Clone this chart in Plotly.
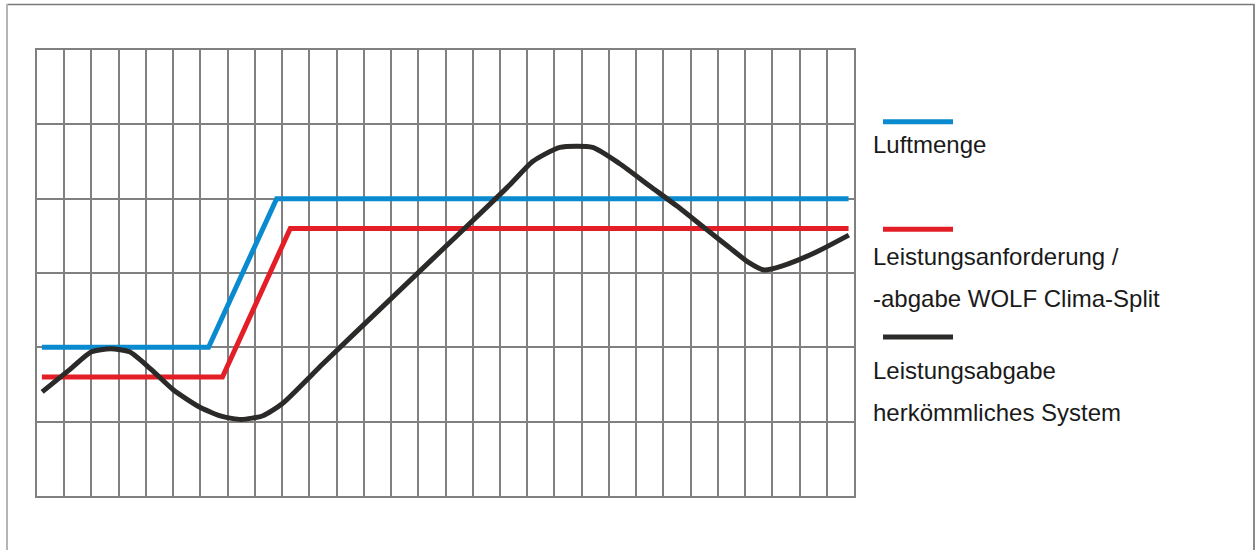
import plotly.graph_objects as go

# ---- data (grid units: x 0..30 columns, y 0..6 rows) ----
air_x = [0.18, 6.30, 8.80, 29.80]
air_y = [2.00, 2.00, 4.00, 4.00]

wolf_x = [0.18, 6.81, 9.30, 29.80]
wolf_y = [1.60, 1.60, 3.60, 3.60]

conv_x = [0.19, 1.20, 2.00, 2.70, 3.40, 4.20, 5.00, 6.00, 6.80, 7.50, 8.30, 9.00, 10.50, 12.50, 14.50,
          16.50, 17.40, 18.20, 19.20, 20.40, 21.40, 22.50, 23.50, 24.50, 25.40, 26.10, 26.70, 27.40, 28.60, 29.81]
conv_y = [1.40, 1.70, 1.94, 1.98, 1.94, 1.70, 1.43, 1.19, 1.07, 1.03, 1.08, 1.24, 1.78, 2.48, 3.18,
          3.88, 4.20, 4.50, 4.69, 4.69, 4.47, 4.17, 3.90, 3.61, 3.35, 3.15, 3.04, 3.10, 3.28, 3.51]

legend_names = ["Luftmenge",
                "Leistungsanforderung /\n-abgabe WOLF Clima-Split",
                "Leistungsabgabe\nherkömmliches System"]
colors = ["#0a8bd0", "#e31e26", "#2b2a29"]

fig = go.Figure()
for xs, ys, c in [(air_x, air_y, colors[0]), (wolf_x, wolf_y, colors[1]), (conv_x, conv_y, colors[2])]:
    fig.add_trace(go.Scatter(x=xs, y=ys, mode="lines",
                             line=dict(color=c, width=5, shape="spline" if c == colors[2] else "linear",
                                       smoothing=0.6),
                             showlegend=False, hoverinfo="skip"))

W, H = 1256, 550
ml, mr, mt, mb = 37, 402, 50, 54
pw, ph = W - ml - mr, H - mt - mb

def px(x):
    return (x - ml) / pw

def py(y):
    return (H - mb - y) / ph

shapes = []
# outer frame
shapes.append(dict(type="line", xref="paper", yref="paper", x0=px(7), x1=px(1254), y0=py(4.5), y1=py(4.5),
                   line=dict(color="#7a7a7a", width=1.5)))
shapes.append(dict(type="line", xref="paper", yref="paper", x0=px(7), x1=px(7), y0=py(4), y1=py(560),
                   line=dict(color="#b5b5b5", width=2)))
shapes.append(dict(type="line", xref="paper", yref="paper", x0=px(1254), x1=px(1254), y0=py(4), y1=py(560),
                   line=dict(color="#8a8a8a", width=2)))

# legend samples
leg_line_y = [121.7, 229.3, 337.0]
for c, yy in zip(colors, leg_line_y):
    shapes.append(dict(type="line", xref="paper", yref="paper", x0=px(883), x1=px(953), y0=py(yy), y1=py(yy),
                       line=dict(color=c, width=5)))

annotations = []
text_lines = [(legend_names[0], 144)]
l2 = legend_names[1].split("\n")
l3 = legend_names[2].split("\n")
text_lines += [(l2[0], 256), (l2[1], 298), (l3[0], 370), (l3[1], 412)]
for t, yy in text_lines:
    annotations.append(dict(text=t, xref="paper", yref="paper", x=px(871), y=py(yy), xanchor="left",
                            yanchor="middle", showarrow=False,
                            font=dict(family="Liberation Sans, Arial, sans-serif", size=24, color="#1a1a1a")))

axis_common = dict(showgrid=True, gridcolor="#808080", gridwidth=2, dtick=1, tick0=0,
                   showticklabels=False, ticks="", zeroline=False,
                   showline=True, linecolor="#808080", linewidth=2, mirror=True, fixedrange=True)

fig.update_layout(
    width=W, height=H,
    margin=dict(l=ml, r=mr, t=mt, b=mb),
    paper_bgcolor="white", plot_bgcolor="white",
    xaxis=dict(range=[0, 30], **axis_common),
    yaxis=dict(range=[0, 6], **axis_common),
    shapes=shapes, annotations=annotations,
)

fig.write_html("out.html", config={"displayModeBar": False},
               post_script="document.body.style.margin='0';document.body.style.overflow='hidden';")
